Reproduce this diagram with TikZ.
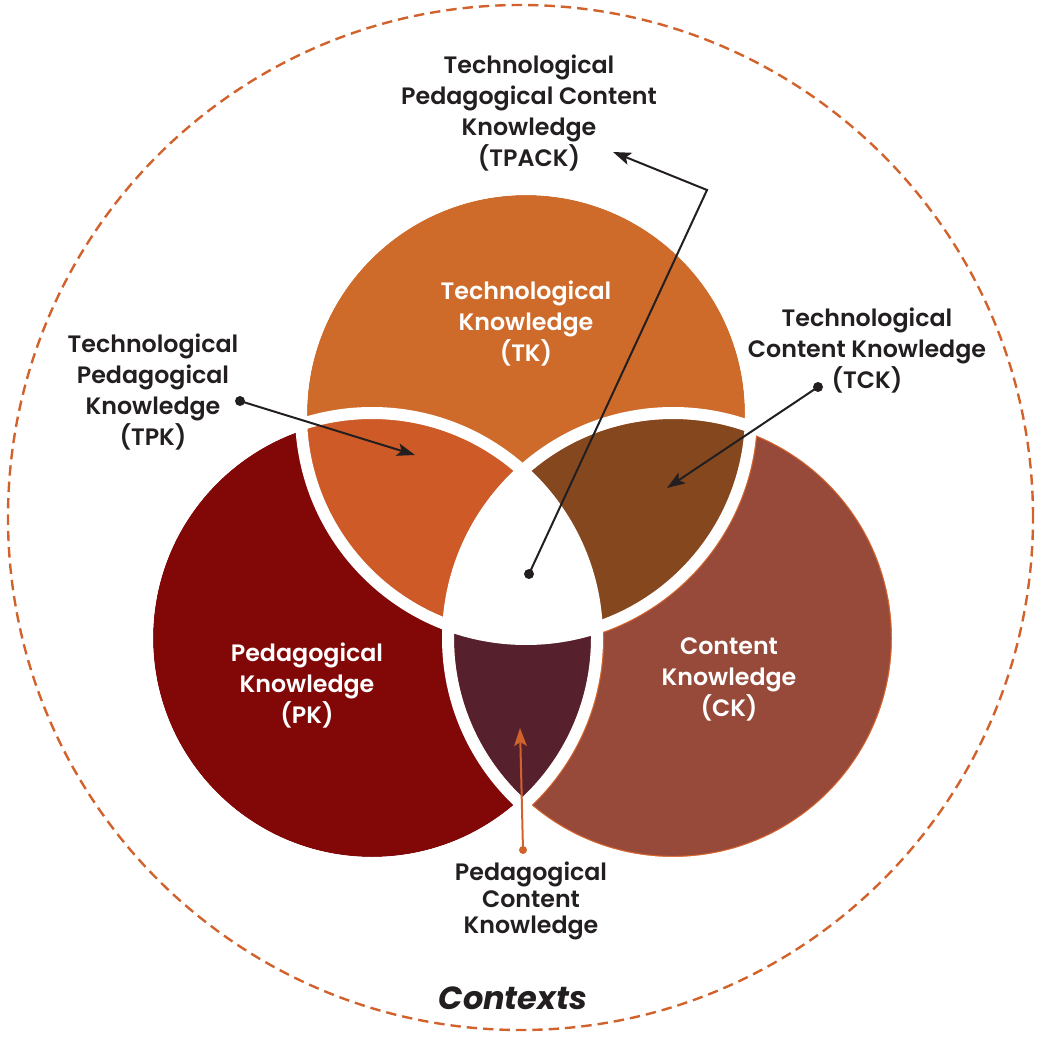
\documentclass[tikz,border=0pt]{standalone}
\usepackage{fontspec}
\newfontfamily\labfont{Poppins SemiBold}
\newfontfamily\ctxfont{Poppins}
\usetikzlibrary{arrows.meta}

\definecolor{TKc}{HTML}{CF6B2A}
\definecolor{TPKc}{HTML}{CD5A27}
\definecolor{TCKc}{HTML}{85471E}
\definecolor{PCKc}{HTML}{56212C}
\definecolor{PKc}{HTML}{820808}
\definecolor{CKc}{HTML}{974A3A}
\definecolor{edge}{HTML}{D2622C}
\definecolor{ink}{HTML}{231F20}

\tikzset{
  lab/.style={font=\labfont\fontsize{17.8}{23.25}\selectfont, align=center, text=ink, inner sep=0pt},
  wlab/.style={lab, text=white},
  ptr/.style={draw=ink, line width=1.5pt, -{Stealth[length=13.5pt,width=9.5pt,inset=3pt]}},
  dot/.style={circle, fill=ink, inner sep=0pt, minimum size=7.5pt},
  rim/.style={draw=white, line width=9pt},
  ckline/.style={draw=edge, line width=1.8pt},
}

\begin{document}
\begin{tikzpicture}[x=0.75pt,y=0.75pt]
\useasboundingbox (0,0) rectangle (1041,1036);
\def\R{219}

% circle centres
\coordinate (tk) at (526,622);
\coordinate (pk) at (372,398);
\coordinate (ck) at (673,398);

% outer context ring
\draw[edge, line width=1.8pt, dash pattern=on 7.8pt off 4.5pt] (520.5,518.5) circle[radius=512.5];

% base discs
\fill[PKc] (pk) circle[radius=\R];
\fill[CKc] (ck) circle[radius=\R];
\fill[TKc] (tk) circle[radius=\R];

% thin orange rim of the content disc
\draw[ckline] (ck) circle[radius=\R];
\begin{scope}
  \clip (ck) circle[radius=\R];
  \draw[ckline] (tk) circle[radius=231] (pk) circle[radius=231];
\end{scope}

% overlaps
\begin{scope}
  \clip (tk) circle[radius=\R];
  \fill[TPKc] (pk) circle[radius=\R];
  \fill[TCKc] (ck) circle[radius=\R];
\end{scope}
\begin{scope}
  \clip (pk) circle[radius=\R];
  \fill[PCKc] (ck) circle[radius=\R];
\end{scope}

% white gaps just outside each disc
\draw[rim] (tk) circle[radius=225];
\draw[rim] (pk) circle[radius=225];
\draw[rim] (ck) circle[radius=225];

% common core, slightly enlarged into the white gaps
\begin{scope}
  \clip (pk) circle[radius=222];
  \clip (tk) circle[radius=222];
  \fill[white] (ck) circle[radius=222];
\end{scope}

% labels
\node[lab] (tpack) at (529,922.5) {Technological\\Pedagogical Content\\Knowledge\\(TPACK)};
\node[wlab] (tkl) at (526,712) {Technological\\Knowledge\\(TK)};
\node[lab] (tpkl) at (153,644) {Technological\\Pedagogical\\Knowledge\\(TPK)};
\node[lab] (tckl) at (867,685) {Technological\\Content Knowledge\\(TCK)};
\node[wlab] (pkl) at (307,350) {Pedagogical\\Knowledge\\(PK)};
\node[wlab] (ckl) at (729,357) {Content\\Knowledge\\(CK)};
\node[lab, font=\labfont\fontsize{17.8}{19.9}\selectfont] (pckl) at (531,135) {Pedagogical\\Content\\Knowledge};
\node[text=ink, inner sep=0pt, font=\ctxfont\bfseries\itshape\fontsize{24}{29}\selectfont] (ctx) at (513,38) {Contexts};

% pointers
\node[dot] (d1) at (240,635) {};
\coordinate (t1) at (415,581);
\draw[ptr] (d1.center) -- (t1);

\node[dot] (d2) at (818,649) {};
\coordinate (t2) at (667,548);
\draw[ptr] (d2.center) -- (t2);

\node[dot] (d3) at (529,462) {};
\coordinate (k3) at (707,846);
\coordinate (t3) at (613,884);
\draw[ptr] (d3.center) -- (k3) -- (t3);

\node[dot, fill=edge, minimum size=6pt] (d4) at (523,186) {};
\coordinate (t4) at (520,308);
\draw[ptr, draw=edge] (d4.center) -- (t4);
\end{tikzpicture}
\end{document}
